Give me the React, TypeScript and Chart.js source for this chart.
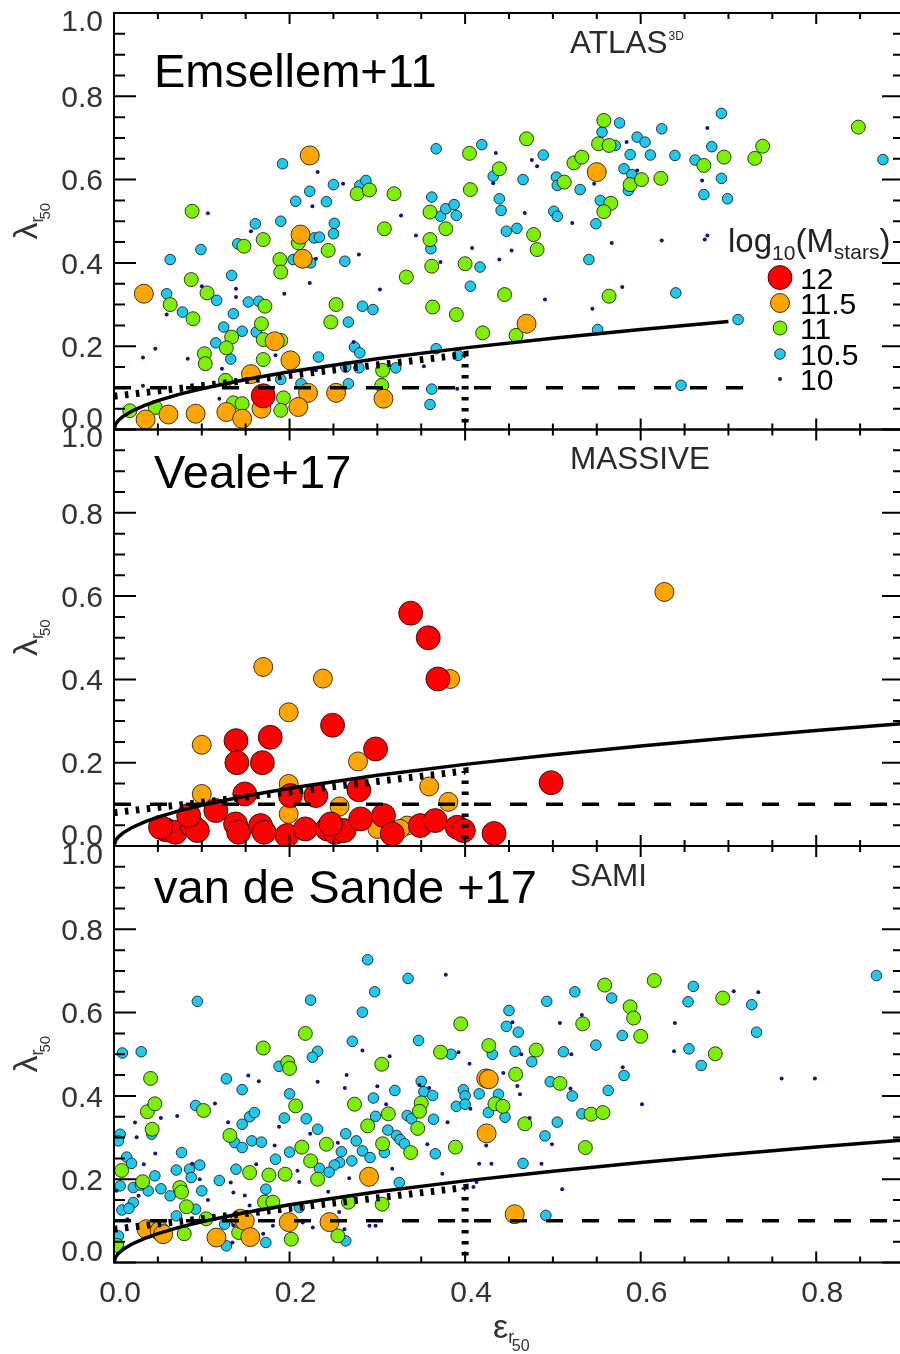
import React, { useEffect, useRef } from 'react';
import { Chart, registerables } from 'chart.js';

Chart.register(...registerables);

type Pt = [number, number];

// ---------------- ATLAS3D (Emsellem+11) ----------------
const atlas12: Pt[] = [[0.17, 0.081]];
const atlas115: Pt[] = [
  [0.223, 0.658], [0.034, 0.326], [0.2125, 0.468], [0.215, 0.41], [0.183, 0.212], [0.201, 0.166],
  [0.156, 0.133], [0.221, 0.088], [0.253, 0.088], [0.307, 0.074], [0.036, 0.024], [0.062, 0.036],
  [0.093, 0.038], [0.128, 0.042], [0.146, 0.026], [0.168, 0.05], [0.21, 0.054], [0.55, 0.618], [0.47, 0.254],
];
const atlas11: Pt[] = [
  [0.089, 0.524], [0.088, 0.36], [0.106, 0.328], [0.064, 0.3], [0.09, 0.266], [0.148, 0.44], [0.17, 0.456],
  [0.189, 0.408], [0.19, 0.378], [0.21, 0.448], [0.244, 0.43], [0.277, 0.566], [0.291, 0.575], [0.319, 0.566],
  [0.308, 0.482], [0.333, 0.366], [0.253, 0.3], [0.247, 0.258], [0.36, 0.522], [0.36, 0.456], [0.362, 0.392],
  [0.363, 0.294], [0.378, 0.482], [0.172, 0.296], [0.168, 0.254], [0.134, 0.222], [0.128, 0.196], [0.103, 0.182],
  [0.104, 0.158], [0.17, 0.216], [0.17, 0.168], [0.19, 0.214], [0.127, 0.118], [0.136, 0.064], [0.146, 0.062],
  [0.193, 0.076], [0.19, 0.046], [0.018, 0.045], [0.047, 0.053], [0.306, 0.142], [0.305, 0.106], [0.39, 0.276],
  [0.42, 0.232], [0.558, 0.742], [0.47, 0.698], [0.405, 0.663], [0.552, 0.686], [0.564, 0.682], [0.439, 0.626],
  [0.406, 0.576], [0.524, 0.64], [0.533, 0.654], [0.513, 0.594], [0.588, 0.588], [0.601, 0.6], [0.623, 0.603],
  [0.566, 0.543], [0.558, 0.523], [0.672, 0.634], [0.695, 0.654], [0.73, 0.651], [0.739, 0.68], [0.848, 0.726],
  [0.478, 0.468], [0.482, 0.432], [0.4, 0.398], [0.445, 0.324], [0.564, 0.32], [0.458, 0.226],
];
const atlas105: Pt[] = [
  [0.367, 0.674], [0.192, 0.638], [0.223, 0.572], [0.25, 0.588], [0.207, 0.548], [0.242, 0.547], [0.28, 0.586],
  [0.287, 0.598], [0.362, 0.558], [0.372, 0.512], [0.378, 0.53], [0.161, 0.494], [0.19, 0.5], [0.251, 0.495],
  [0.25, 0.47], [0.228, 0.46], [0.234, 0.462], [0.141, 0.446], [0.099, 0.432], [0.064, 0.408], [0.204, 0.408],
  [0.224, 0.4], [0.263, 0.404], [0.361, 0.434], [0.134, 0.37], [0.06, 0.326], [0.117, 0.31], [0.153, 0.306],
  [0.165, 0.308], [0.078, 0.282], [0.136, 0.278], [0.283, 0.296], [0.295, 0.288], [0.267, 0.258], [0.125, 0.246],
  [0.146, 0.236], [0.162, 0.234], [0.116, 0.208], [0.133, 0.169], [0.233, 0.174], [0.274, 0.198], [0.28, 0.184],
  [0.279, 0.148], [0.321, 0.148], [0.264, 0.15], [0.267, 0.11], [0.367, 0.194], [0.362, 0.097], [0.36, 0.06],
  [0.213, 0.11], [0.19, 0.12], [0.392, 0.178], [0.692, 0.759], [0.576, 0.736], [0.624, 0.722], [0.556, 0.714],
  [0.596, 0.702], [0.605, 0.69], [0.419, 0.684], [0.571, 0.682], [0.588, 0.66], [0.611, 0.659], [0.639, 0.658],
  [0.662, 0.647], [0.681, 0.679], [0.489, 0.659], [0.432, 0.608], [0.466, 0.6], [0.504, 0.606], [0.505, 0.586],
  [0.531, 0.576], [0.581, 0.626], [0.59, 0.612], [0.586, 0.574], [0.692, 0.603], [0.672, 0.564], [0.699, 0.554],
  [0.439, 0.554], [0.441, 0.526], [0.3875, 0.54], [0.39, 0.514], [0.501, 0.524], [0.505, 0.512], [0.554, 0.55],
  [0.549, 0.494], [0.447, 0.476], [0.459, 0.483], [0.417, 0.39], [0.541, 0.408], [0.406, 0.344], [0.64, 0.328],
  [0.711, 0.264], [0.551, 0.24], [0.646, 0.106], [0.876, 0.648],
];
const atlas10: Pt[] = [
  [0.107, 0.519], [0.232, 0.618], [0.226, 0.536], [0.261, 0.59], [0.327, 0.514], [0.344, 0.466], [0.156, 0.476],
  [0.23, 0.41], [0.279, 0.42], [0.223, 0.352], [0.194, 0.326], [0.139, 0.338], [0.139, 0.318], [0.1, 0.344],
  [0.303, 0.336], [0.372, 0.402], [0.06, 0.276], [0.047, 0.194], [0.033, 0.173], [0.084, 0.17], [0.184, 0.178],
  [0.273, 0.21], [0.353, 0.152], [0.033, 0.105], [0.12, 0.074], [0.23, 0.142], [0.123, 0.146], [0.391, 0.098],
  [0.676, 0.724], [0.435, 0.664], [0.476, 0.647], [0.482, 0.632], [0.584, 0.69], [0.596, 0.622], [0.547, 0.59],
  [0.67, 0.598], [0.432, 0.591], [0.468, 0.52], [0.522, 0.496], [0.624, 0.454], [0.673, 0.456], [0.676, 0.466],
  [0.567, 0.448], [0.408, 0.436], [0.453, 0.43], [0.439, 0.408], [0.579, 0.342], [0.491, 0.312], [0.545, 0.29],
];

// ---------------- MASSIVE (Veale+17) ----------------
const massive12: Pt[] = [
  [0.338, 0.559], [0.358, 0.5], [0.369, 0.401], [0.249, 0.29], [0.139, 0.253], [0.178, 0.261], [0.14, 0.2],
  [0.169, 0.2], [0.298, 0.233], [0.498, 0.152], [0.059, 0.039], [0.07, 0.033], [0.053, 0.045], [0.089, 0.049],
  [0.095, 0.037], [0.085, 0.073], [0.116, 0.085], [0.149, 0.125], [0.1385, 0.053], [0.142, 0.033], [0.167, 0.049],
  [0.171, 0.033], [0.201, 0.121], [0.197, 0.025], [0.218, 0.041], [0.23, 0.121], [0.243, 0.041], [0.252, 0.033],
  [0.262, 0.037], [0.247, 0.053], [0.279, 0.135], [0.281, 0.065], [0.307, 0.073], [0.317, 0.029], [0.349, 0.049],
  [0.366, 0.061], [0.391, 0.045], [0.398, 0.037], [0.433, 0.03],
];
const massive115: Pt[] = [
  [0.17, 0.43], [0.238, 0.402], [0.199, 0.321], [0.1, 0.243], [0.278, 0.203], [0.359, 0.143], [0.383, 0.401],
  [0.627, 0.61], [0.1, 0.125], [0.199, 0.149], [0.381, 0.106], [0.199, 0.077], [0.257, 0.095], [0.3, 0.041],
  [0.334, 0.049], [0.326, 0.041],
];
const massive11: Pt[] = [];
const massive105: Pt[] = [];
const massive10: Pt[] = [];

// ---------------- SAMI (van de Sande+17) ----------------
const sami12: Pt[] = [];
const sami115: Pt[] = [
  [0.2905, 0.206], [0.037, 0.08], [0.052, 0.076], [0.056, 0.068], [0.1167, 0.06], [0.144, 0.105], [0.149, 0.1],
  [0.1553, 0.061], [0.199, 0.097], [0.2455, 0.097], [0.424, 0.442], [0.427, 0.44], [0.4245, 0.31], [0.4565, 0.116],
];
const sami11: Pt[] = [
  [0.218, 0.55], [0.17, 0.515], [0.198, 0.48], [0.2, 0.466], [0.305, 0.476], [0.372, 0.505], [0.0417, 0.442],
  [0.102, 0.365], [0.038, 0.362], [0.0466, 0.381], [0.0435, 0.32], [0.207, 0.376], [0.274, 0.38], [0.3125, 0.357],
  [0.289, 0.328], [0.35, 0.383], [0.348, 0.363], [0.346, 0.322], [0.132, 0.305], [0.214, 0.277], [0.242, 0.284],
  [0.306, 0.285], [0.338, 0.264], [0.224, 0.244], [0.0087, 0.221], [0.1545, 0.216], [0.1765, 0.21], [0.195, 0.212],
  [0.232, 0.2], [0.0326, 0.194], [0.075, 0.18], [0.077, 0.169], [0.0826, 0.134], [0.1715, 0.145], [0.181, 0.145],
  [0.267, 0.145], [0.3055, 0.14], [0.105, 0.105], [0.141, 0.1], [0.08, 0.069], [0.142, 0.072], [0.202, 0.056],
  [0.255, 0.064], [0.003, 0.041], [0.389, 0.277], [0.395, 0.573], [0.427, 0.521], [0.434, 0.381], [0.559, 0.666],
  [0.6155, 0.677], [0.6935, 0.635], [0.588, 0.614], [0.592, 0.587], [0.534, 0.573], [0.6, 0.543], [0.685, 0.501],
  [0.481, 0.51], [0.4576, 0.452], [0.508, 0.43], [0.443, 0.375], [0.5435, 0.356], [0.557, 0.36], [0.468, 0.333],
  [0.537, 0.276],
];
const sami105: Pt[] = [
  [0.289, 0.727], [0.335, 0.682], [0.297, 0.65], [0.283, 0.601], [0.224, 0.63], [0.095, 0.627], [0.2715, 0.531],
  [0.347, 0.533], [0.0095, 0.503], [0.031, 0.506], [0.232, 0.507], [0.226, 0.493], [0.188, 0.471], [0.128, 0.441],
  [0.146, 0.415], [0.35, 0.435], [0.32, 0.413], [0.2, 0.405], [0.2955, 0.395], [0.353, 0.41], [0.363, 0.401],
  [0.093, 0.377], [0.1545, 0.35], [0.16, 0.36], [0.194, 0.347], [0.219, 0.345], [0.298, 0.351], [0.334, 0.353],
  [0.339, 0.345], [0.364, 0.344], [0.146, 0.332], [0.232, 0.32], [0.007, 0.308], [0.005, 0.292], [0.043, 0.308],
  [0.312, 0.318], [0.322, 0.305], [0.326, 0.295], [0.331, 0.285], [0.1375, 0.288], [0.146, 0.276], [0.157, 0.292],
  [0.168, 0.289], [0.264, 0.309], [0.276, 0.292], [0.259, 0.266], [0.283, 0.268], [0.366, 0.261], [0.077, 0.264],
  [0.2, 0.265], [0.184, 0.248], [0.257, 0.24], [0.271, 0.244], [0.0144, 0.253], [0.02, 0.238], [0.0977, 0.234],
  [0.071, 0.222], [0.086, 0.224], [0.139, 0.224], [0.234, 0.226], [0.251, 0.234], [0.088, 0.204], [0.12, 0.197],
  [0.0466, 0.208], [0.007, 0.184], [0.022, 0.18], [0.03, 0.186], [0.039, 0.172], [0.0535, 0.177], [0.064, 0.16],
  [0.1, 0.172], [0.173, 0.176], [0.022, 0.144], [0.009, 0.126], [0.017, 0.13], [0.325, 0.192], [0.128, 0.04],
  [0.173, 0.048], [0.264, 0.052], [0.005, 0.064], [0.093, 0.128], [0.071, 0.112], [0.126, 0.092], [0.2917, 0.252],
  [0.308, 0.264], [0.245, 0.217], [0.211, 0.132], [0.384, 0.5], [0.431, 0.5], [0.398, 0.415], [0.4, 0.4],
  [0.416, 0.405], [0.39, 0.375], [0.4, 0.38], [0.4265, 0.36], [0.8686, 0.689], [0.525, 0.65], [0.567, 0.635],
  [0.66, 0.663], [0.654, 0.626], [0.7265, 0.619], [0.493, 0.627], [0.45, 0.605], [0.447, 0.567], [0.4606, 0.553],
  [0.732, 0.553], [0.579, 0.545], [0.549, 0.522], [0.457, 0.507], [0.512, 0.506], [0.655, 0.513], [0.669, 0.473],
  [0.476, 0.482], [0.581, 0.449], [0.497, 0.434], [0.522, 0.4], [0.563, 0.413], [0.4455, 0.349], [0.438, 0.404],
  [0.505, 0.337], [0.533, 0.357], [0.491, 0.304], [0.466, 0.238], [0.492, 0.113],
];
const sami10: Pt[] = [
  [0.283, 0.509], [0.378, 0.691], [0.153, 0.449], [0.165, 0.435], [0.232, 0.434], [0.265, 0.45], [0.263, 0.419],
  [0.3, 0.423], [0.314, 0.495], [0.115, 0.382], [0.31, 0.38], [0.359, 0.419], [0.072, 0.352], [0.0534, 0.347],
  [0.0239, 0.336], [0.13, 0.337], [0.188, 0.326], [0.2235, 0.309], [0.0258, 0.301], [0.047, 0.262], [0.183, 0.281],
  [0.255, 0.2875], [0.357, 0.284], [0.034, 0.236], [0.089, 0.237], [0.209, 0.22], [0.0977, 0.2], [0.317, 0.225],
  [0.374, 0.213], [0.133, 0.192], [0.211, 0.193], [0.268, 0.202], [0.149, 0.161], [0.136, 0.168], [0.244, 0.17],
  [0.028, 0.16], [0.107, 0.15], [0.1545, 0.137], [0.136, 0.089], [0.2265, 0.084], [0.181, 0.088], [0.291, 0.088],
  [0.298, 0.088], [0.2625, 0.08], [0.011, 0.034], [0.17, 0.069], [0.3925, 0.505], [0.405, 0.477], [0.406, 0.369],
  [0.38, 0.337], [0.424, 0.281], [0.416, 0.237], [0.43, 0.237], [0.413, 0.193], [0.2565, 0.121], [0.348, 0.426],
  [0.4095, 0.181], [0.706, 0.651], [0.734, 0.649], [0.533, 0.594], [0.508, 0.575], [0.639, 0.575], [0.454, 0.577],
  [0.464, 0.5], [0.521, 0.5], [0.638, 0.507], [0.5795, 0.469], [0.4435, 0.455], [0.4595, 0.424], [0.4625, 0.404],
  [0.52, 0.418], [0.4735, 0.347], [0.6015, 0.38], [0.7606, 0.442], [0.7985, 0.442], [0.499, 0.284], [0.487, 0.237],
  [0.5106, 0.176], [0.162, 0.236], [0.003, 0.172], [0.0152, 0.104], [0.215, 0.096], [0.135, 0.048],
];

// ---------------- reference lines ----------------
// lambda = 0.31 sqrt(eps) criterion
const curveEps = [0, 0.002, 0.005, 0.01, 0.02, 0.035, 0.05, 0.075, 0.1, 0.15, 0.2, 0.3, 0.4, 0.5, 0.6, 0.7, 0.8, 0.9];
const curveLam = [0, 0.0139, 0.0219, 0.031, 0.0438, 0.058, 0.0693, 0.0849, 0.098, 0.12, 0.1386, 0.1698, 0.196, 0.2192, 0.2401, 0.2594, 0.2773, 0.2941];
// dotted slow-rotator region boundary
const regionEps = [0, 0.4, 0.4];
const regionLam = [0.08, 0.18, 0];
// dashed horizontal cut
const cutLam = 0.1;

// axes / ticks
const xMajor = [0, 0.2, 0.4, 0.6, 0.8];
const xMinor = [0.05, 0.1, 0.15, 0.25, 0.3, 0.35, 0.45, 0.5, 0.55, 0.65, 0.7, 0.75, 0.85];
const xTickLabels = ['0.0', '0.2', '0.4', '0.6', '0.8'];
const yMajor = [0, 0.2, 0.4, 0.6, 0.8, 1.0];
const yMinor = [0.05, 0.1, 0.15, 0.25, 0.3, 0.35, 0.45, 0.5, 0.55, 0.65, 0.7, 0.75, 0.85, 0.9, 0.95];
const yTickLabels = ['0.0', '0.2', '0.4', '0.6', '0.8', '1.0'];
const massLabels = ['12', '11.5', '11', '10.5', '10'];

// styles
const massColors = ['#ff0000', '#ffa500', '#7cf000', '#22c8ec', '#12128c'];
const massRadius = [12, 9.5, 7, 5.3, 2];
const FONT = '"Liberation Sans", Arial, Helvetica, sans-serif';

interface PanelSpec {
  title: string;
  survey: string;
  sup: string;
  classes: Pt[][];
  curveMax: number;
  cutMax: number;
  legend: boolean;
  xAxis: boolean;
  canvasTop: number;
  canvasH: number;
  plotTop: number;
  plotBottom: number;
  titleBase: number;
  surveyBase: number;
}

const panels: PanelSpec[] = [
  {
    title: 'Emsellem+11', survey: 'ATLAS', sup: '3D',
    classes: [atlas12, atlas115, atlas11, atlas105, atlas10],
    curveMax: 0.7, cutMax: 0.72, legend: true, xAxis: false,
    canvasTop: 0, canvasH: 440, plotTop: 13, plotBottom: 429.5, titleBase: 87, surveyBase: 53,
  },
  {
    title: 'Veale+17', survey: 'MASSIVE', sup: '',
    classes: [massive12, massive115, massive11, massive105, massive10],
    curveMax: 0.9, cutMax: 0.9, legend: false, xAxis: false,
    canvasTop: 420, canvasH: 440, plotTop: 429.5, plotBottom: 846, titleBase: 488, surveyBase: 469,
  },
  {
    title: 'van de Sande +17', survey: 'SAMI', sup: '',
    classes: [sami12, sami115, sami11, sami105, sami10],
    curveMax: 0.9, cutMax: 0.9, legend: false, xAxis: true,
    canvasTop: 836, canvasH: 518, plotTop: 846, plotBottom: 1262.5, titleBase: 903, surveyBase: 886,
  },
];

const CANVAS_W = 920;
const PLOT_LEFT = 114;
const PLOT_RIGHT = 904;

function decorPlugin(spec: PanelSpec) {
  return {
    id: 'decor',
    afterDatasetsDraw(chart: any) {
      const { ctx, chartArea: a } = chart;
      const xs = chart.scales.x;
      const ys = chart.scales.y;
      const off = spec.canvasTop;
      ctx.save();
      ctx.strokeStyle = '#000';
      ctx.lineWidth = 2;
      ctx.lineCap = 'butt';
      ctx.beginPath();
      const xt = (v: number, len: number) => {
        const px = xs.getPixelForValue(v);
        ctx.moveTo(px, a.bottom); ctx.lineTo(px, a.bottom - len);
        ctx.moveTo(px, a.top); ctx.lineTo(px, a.top + len);
      };
      const yt = (v: number, len: number) => {
        const py = ys.getPixelForValue(v);
        ctx.moveTo(a.left, py); ctx.lineTo(a.left + len, py);
        ctx.moveTo(a.right, py); ctx.lineTo(a.right - len, py);
      };
      xMajor.forEach((v) => xt(v, 11));
      xMinor.forEach((v) => xt(v, 6));
      yMajor.forEach((v) => yt(v, 22));
      yMinor.forEach((v) => yt(v, 11));
      ctx.stroke();
      ctx.strokeRect(a.left, a.top, a.right - a.left, a.bottom - a.top);

      // y tick labels
      ctx.fillStyle = '#333';
      ctx.font = `30px ${FONT}`;
      ctx.textAlign = 'right';
      ctx.textBaseline = 'alphabetic';
      yMajor.forEach((v, i) => {
        let py = ys.getPixelForValue(v);
        if (v === 1) py += 7;
        if (v === 0) py -= 12;
        ctx.fillText(yTickLabels[i], a.left - 11, py + 10.7);
      });

      // y axis title (rotated)
      const cy = (a.top + a.bottom) / 2;
      ctx.save();
      ctx.translate(37, cy);
      ctx.rotate(-Math.PI / 2);
      ctx.textAlign = 'left';
      ctx.font = `34px ${FONT}`;
      const w1 = ctx.measureText('λ').width;
      ctx.font = `18px ${FONT}`;
      const w2 = ctx.measureText('r').width;
      ctx.font = `15px ${FONT}`;
      const w3 = ctx.measureText('50').width;
      let tx = -(w1 + w2 * 0.5 + w3) / 2;
      ctx.font = `34px ${FONT}`;
      ctx.fillText('λ', tx, 0);
      tx += w1;
      ctx.font = `18px ${FONT}`;
      ctx.fillText('r', tx, 6);
      tx += w2 * 0.5;
      ctx.font = `15px ${FONT}`;
      ctx.fillText('50', tx, 13);
      ctx.restore();

      // panel title
      ctx.textAlign = 'left';
      ctx.fillStyle = '#000';
      ctx.font = `47px ${FONT}`;
      ctx.fillText(spec.title, 154, spec.titleBase - off);

      // survey name
      ctx.fillStyle = '#2a2a2a';
      ctx.font = `31.5px ${FONT}`;
      ctx.fillText(spec.survey, 570, spec.surveyBase - off);
      if (spec.sup) {
        const sw = ctx.measureText(spec.survey).width;
        ctx.font = `12px ${FONT}`;
        ctx.fillText(spec.sup, 570 + sw + 1, spec.surveyBase - off - 13.5);
      }

      if (spec.legend) {
        ctx.fillStyle = '#222';
        let lx = 728;
        const base = 252 - off;
        ctx.font = `33px ${FONT}`;
        ctx.fillText('log', lx, base); lx += ctx.measureText('log').width;
        ctx.font = `21px ${FONT}`;
        ctx.fillText('10', lx, base + 8); lx += ctx.measureText('10').width;
        ctx.font = `33px ${FONT}`;
        ctx.fillText('(M', lx, base); lx += ctx.measureText('(M').width;
        ctx.font = `21px ${FONT}`;
        ctx.fillText('stars', lx, base + 7); lx += ctx.measureText('stars').width;
        ctx.font = `33px ${FONT}`;
        ctx.fillText(')', lx, base);
        const ly = [277.5, 303, 328, 354, 379];
        massLabels.forEach((lab, i) => {
          const y = ly[i] - off;
          ctx.beginPath();
          ctx.arc(780, y, massRadius[i], 0, Math.PI * 2);
          ctx.fillStyle = massColors[i];
          ctx.fill();
          if (i < 4) {
            ctx.lineWidth = 1;
            ctx.strokeStyle = 'rgba(0,0,0,0.75)';
            ctx.stroke();
          }
          ctx.fillStyle = '#000';
          ctx.font = `30px ${FONT}`;
          ctx.fillText(lab, 800, y + 11);
        });
      }

      if (spec.xAxis) {
        ctx.fillStyle = '#333';
        ctx.font = `30px ${FONT}`;
        ctx.textAlign = 'center';
        xMajor.forEach((v, i) => {
          const px = xs.getPixelForValue(v) + 6;
          ctx.fillText(xTickLabels[i], px, a.bottom + 39.7);
        });
        ctx.textAlign = 'left';
        ctx.font = `34px ${FONT}`;
        let ex = 493;
        const eb = 1338 - off;
        ctx.fillText('ε', ex, eb); ex += ctx.measureText('ε').width;
        ctx.font = `18px ${FONT}`;
        ctx.fillText('r', ex, eb + 5); ex += ctx.measureText('r').width * 0.6;
        ctx.font = `16px ${FONT}`;
        ctx.fillText('50', ex, eb + 13);
      }
      ctx.restore();
    },
  };
}

function buildConfig(spec: PanelSpec): any {
  const toXY = (pts: Pt[]) => pts.map(([x, y]) => ({ x, y }));
  const curve = curveEps
    .map((e, i) => ({ x: e, y: curveLam[i] }))
    .filter((p) => p.x <= spec.curveMax + 1e-9);
  const region = regionEps.map((e, i) => ({ x: e, y: regionLam[i] }));
  const cut = [{ x: 0, y: cutLam }, { x: spec.cutMax, y: cutLam }];
  const lineBase = {
    showLine: true, pointRadius: 0, pointHoverRadius: 0, fill: false, tension: 0,
    borderColor: '#000', borderCapStyle: 'butt', clip: 0,
  };
  const datasets: any[] = [
    { ...lineBase, label: 'curve', data: curve, borderWidth: 3.5 },
    { ...lineBase, label: 'cut', data: cut, borderWidth: 3.5, borderDash: [17, 19] },
    { ...lineBase, label: 'region', data: region, borderWidth: 7, borderDash: [3.5, 7.5] },
  ];
  // navy dots on top of the circles, then big to small
  const orderIdx = [4, 0, 1, 2, 3];
  orderIdx.forEach((ci) => {
    const pts = spec.classes[ci];
    datasets.push({
      label: massLabels[ci],
      data: toXY(pts),
      showLine: false,
      pointRadius: massRadius[ci],
      pointHoverRadius: massRadius[ci],
      backgroundColor: massColors[ci],
      borderColor: ci === 4 ? massColors[ci] : 'rgba(0,0,0,0.75)',
      borderWidth: ci === 4 ? 0 : 1,
      clip: 0,
    });
  });
  return {
    type: 'scatter',
    data: { datasets },
    options: {
      responsive: false,
      animation: false,
      devicePixelRatio: 1,
      events: [],
      layout: {
        autoPadding: false,
        padding: {
          left: PLOT_LEFT,
          right: CANVAS_W - PLOT_RIGHT,
          top: spec.plotTop - spec.canvasTop,
          bottom: spec.canvasTop + spec.canvasH - spec.plotBottom,
        },
      },
      scales: {
        x: { type: 'linear', min: 0, max: 0.9, display: false },
        y: { type: 'linear', min: 0, max: 1.0, display: false },
      },
      plugins: { legend: { display: false }, tooltip: { enabled: false } },
    },
    plugins: [decorPlugin(spec)],
  };
}

function Panel({ spec }: { spec: PanelSpec }) {
  const ref = useRef<HTMLCanvasElement>(null);
  useEffect(() => {
    if (!ref.current) return;
    const chart = new Chart(ref.current, buildConfig(spec));
    return () => chart.destroy();
  }, [spec]);
  return (
    <canvas
      ref={ref}
      width={CANVAS_W}
      height={spec.canvasH}
      style={{ position: 'absolute', left: 0, top: spec.canvasTop, width: CANVAS_W, height: spec.canvasH }}
    />
  );
}

export default function App() {
  return (
    <div
      style={{
        position: 'fixed', left: 0, top: 0, width: 900, height: 1354,
        overflow: 'hidden', background: '#ffffff',
      }}
    >
      {panels.map((p, i) => (
        <Panel key={i} spec={p} />
      ))}
    </div>
  );
}
